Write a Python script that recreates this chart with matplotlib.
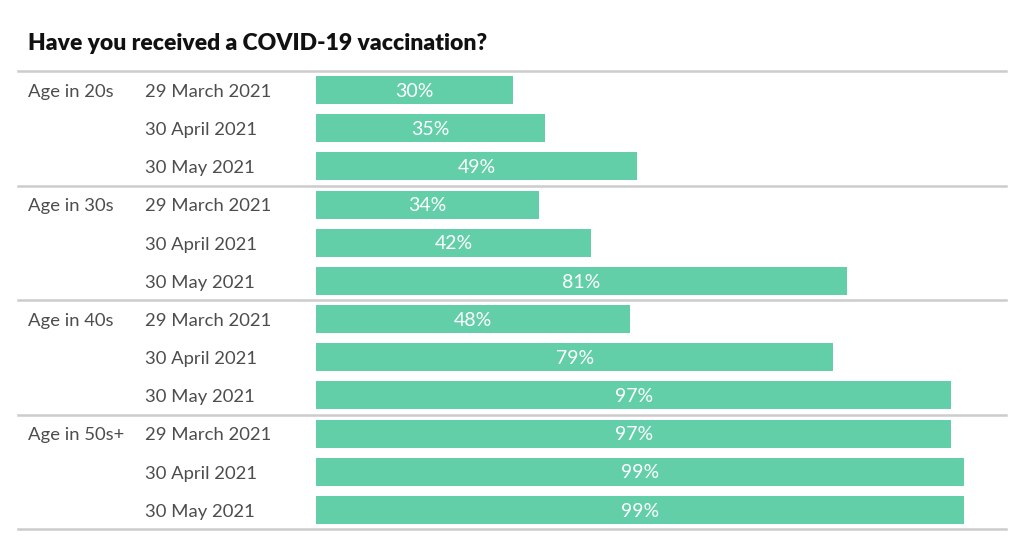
import numpy as np
import matplotlib.pyplot as plt
import matplotlib.transforms as mtransforms

# ------------------------------------------------------------------
# Data
# ------------------------------------------------------------------
title = 'Have you received a COVID-19 vaccination?'
age_groups = ['Age in 20s', 'Age in 30s', 'Age in 40s', 'Age in 50s+']
dates = ['29 March 2021', '30 April 2021', '30 May 2021']
pct_20s = [30, 35, 49]
pct_30s = [34, 42, 81]
pct_40s = [48, 79, 97]
pct_50s = [97, 99, 99]

values = pct_20s + pct_30s + pct_40s + pct_50s

# ------------------------------------------------------------------
# Style
# ------------------------------------------------------------------
plt.rcParams['font.family'] = ['Lato', 'DejaVu Sans']
bar_color = '#62cfa8'
text_gray = '#4d4d4d'
line_gray = '#cccccc'

W, H = 1024, 549
fig = plt.figure(figsize=(W / 100, H / 100), dpi=100)

# bar axes placed in pixel space: x 316..971 (0..100%), y 71..529
ax = fig.add_axes([316 / W, 1 - 529 / H, 655 / W, 458 / H])
n = len(values)
rows = np.arange(n) + 0.5
ax.barh(rows, values, height=0.73, color=bar_color, edgecolor='none')
ax.set_xlim(0, 100)
ax.set_ylim(n, 0)
ax.axis('off')

for y, v in zip(rows, values):
    ax.text(v / 2, y + 0.03, f'{v}%', color='white', fontsize=14,
            ha='center', va='center')

# separator lines and labels across the full width
trans = mtransforms.blended_transform_factory(fig.transFigure, ax.transData)
for k in range(len(age_groups) + 1):
    ax.plot([18 / W, 1006 / W], [k * 3, k * 3], transform=trans,
            color=line_gray, lw=1.8, clip_on=False, zorder=0)

for g, name in enumerate(age_groups):
    ax.text(28 / W, g * 3 + 0.55, name, transform=trans, color=text_gray,
            fontsize=13.3, ha='left', va='center')
    for r, d in enumerate(dates):
        ax.text(145 / W, g * 3 + r + 0.55, d, transform=trans,
                color=text_gray, fontsize=13.3, ha='left', va='center')

fig.text(28 / W, 1 - 44 / H, title, fontsize=16.5, fontweight='heavy',
         color='#111111', ha='left', va='center')

fig.savefig('out.png', dpi=100, facecolor='white')
